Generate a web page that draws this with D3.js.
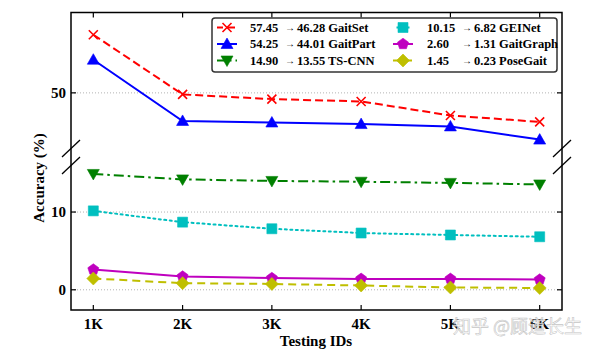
<!DOCTYPE html>
<html><head><meta charset="utf-8">
<script src="https://cdn.jsdelivr.net/npm/d3@7"></script>
<style>body{margin:0;background:#fff}svg{display:block}</style>
</head><body>
<svg id="c" width="600" height="353"></svg>
<script>
const categories = ["1K","2K","3K","4K","5K","6K"];
const seriesNames = ["GaitSet","GaitPart","TS-CNN","GEINet","GaitGraph","PoseGait"];
const gaitSet   = [57.45, 49.8, 49.2, 48.9, 47.1, 46.28];
const gaitPart  = [54.25, 46.4, 46.2, 46.0, 45.7, 44.01];
const tsCnn     = [14.90, 14.2, 14.0, 13.9, 13.75, 13.55];
const geiNet    = [10.15, 8.7, 7.85, 7.3, 7.05, 6.82];
const gaitGraph = [2.60, 1.7, 1.5, 1.4, 1.4, 1.31];
const poseGait  = [1.45, 0.85, 0.75, 0.55, 0.3, 0.23];
const legendFrom = ["57.45","54.25","14.90","10.15","2.60","1.45"];
const legendTo   = ["46.28","44.01","13.55","6.82","1.31","0.23"];
const yTicks = [0, 10, 50];
const values = [gaitSet, gaitPart, tsCnn, geiNet, gaitGraph, poseGait];

const styles = [
  {color:"#ff0000", dash:"8,4", marker:"x"},
  {color:"#0000ff", dash:null, marker:"tri"},
  {color:"#008000", dash:"10,4,2.5,4", marker:"trid"},
  {color:"#00bfbf", dash:"2,3.5", marker:"sq"},
  {color:"#bf00bf", dash:null, marker:"pent"},
  {color:"#bfbf00", dash:"8,5", marker:"dia"}
];

const L = 71, R = 562, T = 12.5, B = 310;
const svg = d3.select("#c");
const x = d3.scaleLinear().domain([0.75, 6.25]).range([L, R]);
const y = d3.scaleLinear().domain([-2.6, 17.4, 42.1, 60.3]).range([B, 154.5, 154.5, T]);
const serif = "'Liberation Serif','Times New Roman',serif";

// grid
svg.append("g").selectAll("line").data(yTicks).join("line")
  .attr("x1", L).attr("x2", R).attr("y1", d=>y(d)).attr("y2", d=>y(d))
  .attr("stroke", "#aaa").attr("stroke-width", 0.9).attr("stroke-dasharray", "1,2");

function markerPath(m){
  switch(m){
    case "x": return "M-4.5,-4.5L4.5,4.5M-4.5,4.5L4.5,-4.5";
    case "tri": return "M0,-6L6,4.5L-6,4.5Z";
    case "trid": return "M0,6L6,-4.5L-6,-4.5Z";
    case "sq": return "M-5,-5H5V5H-5Z";
    case "pent": {
      const r = 5.8; let p = [];
      for (let i=0;i<5;i++){ const a = -Math.PI/2 + i*2*Math.PI/5; p.push([r*Math.cos(a), r*Math.sin(a)]); }
      return "M" + p.map(q=>q.join(",")).join("L") + "Z";
    }
    case "dia": return "M0,-6.5L6.5,0L0,6.5L-6.5,0Z";
  }
}
function drawMarker(g, m, color, cx, cy){
  const p = g.append("path").attr("d", markerPath(m)).attr("transform", `translate(${cx},${cy})`);
  if (m === "x") p.attr("fill","none").attr("stroke", color).attr("stroke-width", 1.6);
  else p.attr("fill", color).attr("stroke", color).attr("stroke-width", 0.6);
}

const line = d3.line().x((d,i)=>x(i+1)).y(d=>y(d));
const plot = svg.append("g");
values.forEach((vals, si) => {
  const s = styles[si];
  plot.append("path").datum(vals).attr("d", line).attr("fill","none")
    .attr("stroke", s.color).attr("stroke-width", 2)
    .attr("stroke-dasharray", s.dash).attr("stroke-linecap", s.marker==="sq" ? "round" : "butt");
  vals.forEach((v,i) => drawMarker(plot, s.marker, s.color, x(i+1), y(v)));
});

// frame
svg.append("rect").attr("x", L).attr("y", T).attr("width", R-L).attr("height", B-T)
  .attr("fill","none").attr("stroke","#000").attr("stroke-width",1.5);

// ticks
const tg = svg.append("g").attr("stroke","#000").attr("stroke-width",1.2);
categories.forEach((c,i)=>{
  tg.append("line").attr("x1", x(i+1)).attr("x2", x(i+1)).attr("y1", B).attr("y2", B-5);
  tg.append("line").attr("x1", x(i+1)).attr("x2", x(i+1)).attr("y1", T).attr("y2", T+5);
});
yTicks.forEach(v=>{
  tg.append("line").attr("x1", L).attr("x2", L+5).attr("y1", y(v)).attr("y2", y(v));
  tg.append("line").attr("x1", R).attr("x2", R-5).attr("y1", y(v)).attr("y2", y(v));
});

// break marks
const bg = svg.append("g").attr("stroke","#000").attr("stroke-width",1.3);
[L, R].forEach(cx=>{
  [148.5, 165.5].forEach(cy=>{
    bg.append("line").attr("x1", cx-9).attr("y1", cy+8.5).attr("x2", cx+9).attr("y2", cy-8.5);
  });
});

// tick labels
svg.append("g").selectAll("text").data(categories).join("text")
  .attr("x", (d,i)=>x(i+1)).attr("y", 329).attr("text-anchor","middle")
  .attr("font-family", serif).attr("font-weight","bold").attr("font-size", 15).text(d=>d);
svg.append("g").selectAll("text").data(yTicks).join("text")
  .attr("x", 66).attr("y", d=>y(d)+5).attr("text-anchor","end")
  .attr("font-family", serif).attr("font-weight","bold").attr("font-size", 15).text(d=>d);

svg.append("text").attr("x", 316).attr("y", 346).attr("text-anchor","middle")
  .attr("font-family", serif).attr("font-weight","bold").attr("font-size", 15).text("Testing IDs");
svg.append("text").attr("transform","translate(44,178) rotate(-90)").attr("text-anchor","middle")
  .attr("font-family", serif).attr("font-weight","bold").attr("font-size", 15).text("Accuracy (%)");

// legend
const lg = svg.append("g");
lg.append("rect").attr("x", 212).attr("y", 18).attr("width", 345).attr("height", 54).attr("rx", 3)
  .attr("fill","#fff").attr("stroke","#333").attr("stroke-width",1.5);
seriesNames.forEach((name, si)=>{
  const s = styles[si];
  const col = si < 3 ? 0 : 1, row = si % 3;
  const hx = col === 0 ? 227 : 403;
  const ty = 27.5 + row*16.5;
  lg.append("line").attr("x1", hx-10).attr("x2", hx+10).attr("y1", ty).attr("y2", ty)
    .attr("stroke", s.color).attr("stroke-width", 2).attr("stroke-dasharray", s.dash)
    .attr("stroke-dashoffset", s.dash ? 2 : null);
  drawMarker(lg, s.marker, s.color, hx, ty);
  const tx = col === 0 ? 250 : 427;
  const t = lg.append("text").attr("y", ty+4.3).attr("font-family", serif).attr("font-weight","bold").attr("font-size", 12.5);
  t.append("tspan").attr("x", tx).text(legendFrom[si]);
  t.append("tspan").attr("x", tx+35).attr("font-size", 10).attr("dy", -1).text("→");
  t.append("tspan").attr("x", tx+47).attr("dy", 1).text(legendTo[si] + " " + name);
});

// watermark
svg.append("text").attr("x", 453).attr("y", 333)
  .attr("font-family","'Noto Sans CJK SC',sans-serif").attr("font-size", 18)
  .attr("fill","#fff").attr("fill-opacity",0.8).attr("stroke","#b5b5b5").attr("stroke-width",0.6).attr("stroke-opacity",0.8)
  .text("知乎 @顾道长生");
</script>
</body></html>
